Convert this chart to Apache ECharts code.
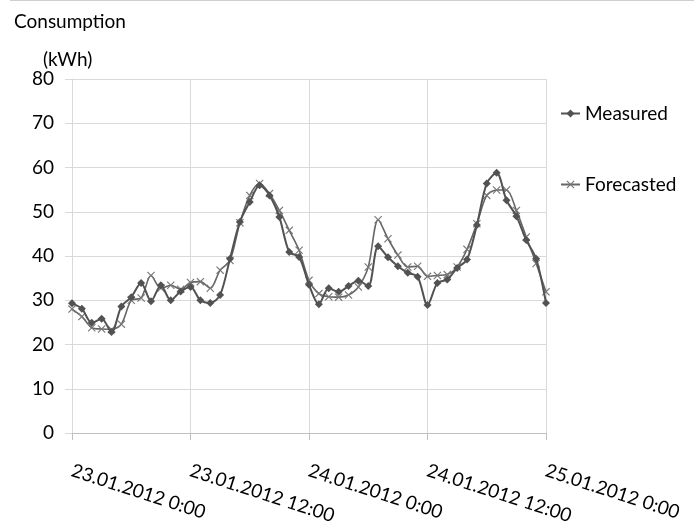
<!DOCTYPE html>
<html>
<head>
<meta charset="utf-8">
<script src="https://cdn.jsdelivr.net/npm/echarts@6/dist/echarts.min.js"></script>
<style>
html,body{margin:0;padding:0;background:#fff;}
#chart{width:694px;height:529px;}
</style>
</head>
<body>
<div id="chart"></div>
<script>
// Hourly points from 23.01.2012 0:00 to 25.01.2012 0:00
var tickLabels = ["23.01.2012 0:00", "23.01.2012 12:00", "24.01.2012 0:00", "24.01.2012 12:00", "25.01.2012 0:00"];
var hours = [];
for (var i = 0; i <= 48; i++) hours.push(i);

var measured = [29.3, 28.1, 24.9, 25.8, 22.8, 28.6, 30.7, 33.9, 29.8, 33.4, 30.0, 32.0, 33.0, 30.0, 29.4, 31.2,
  39.4, 47.7, 52.2, 56.0, 53.7, 48.8, 40.9, 39.8, 33.5, 29.1, 32.7, 31.9, 33.2, 34.4, 33.2, 42.2,
  39.7, 37.7, 36.2, 35.3, 28.9, 33.9, 34.7, 37.3, 39.2, 47.0, 56.4, 58.8, 52.6, 49.0, 43.6, 39.4, 29.4];
var forecasted = [28.0, 26.3, 23.8, 23.5, 23.4, 24.6, 30.0, 30.5, 35.6, 32.7, 33.4, 32.5, 34.0, 34.2, 32.7, 36.8,
  39.0, 47.5, 53.7, 56.4, 54.1, 50.3, 45.8, 41.3, 34.5, 31.5, 30.8, 30.7, 31.2, 33.0, 37.5, 48.2,
  43.9, 40.2, 37.5, 37.7, 35.4, 35.6, 35.8, 37.5, 41.5, 47.3, 53.7, 54.9, 54.9, 50.3, 44.3, 38.3, 31.9];

var FONT = 'Lato';
var crossPath = 'path://M0,1 L1,0 L5,4 L9,0 L10,1 L6,5 L10,9 L9,10 L5,6 L1,10 L0,9 L4,5 Z';

var chart = echarts.init(document.getElementById('chart'), null, {renderer: 'canvas'});
chart.setOption({
  backgroundColor: '#ffffff',
  animation: false,
  textStyle: {fontFamily: FONT},
  grid: {left: 72, right: 148, top: 79, bottom: 96, containLabel: false},
  graphic: [
    {type: 'line', shape: {x1: 10, y1: 0.5, x2: 694, y2: 0.5}, style: {stroke: '#cfcfcf', lineWidth: 1}},
    {type: 'text', left: 14, top: 12, style: {text: 'Consumption', font: '19px Lato', fill: '#000'}},
    {type: 'text', left: 43, top: 50, style: {text: '(kWh)', font: '19px Lato', fill: '#000'}}
  ],
  legend: {
    orient: 'vertical',
    left: 555,
    top: 99,
    itemGap: 52,
    itemWidth: 19,
    itemHeight: 10,
    textStyle: {fontSize: 19, color: '#000', fontFamily: FONT},
    data: ['Measured', 'Forecasted']
  },
  xAxis: {
    type: 'category',
    data: hours,
    boundaryGap: false,
    axisLine: {show: true, lineStyle: {color: '#bfbfbf', width: 1}},
    axisTick: {show: true, interval: 11, length: 7, lineStyle: {color: '#bfbfbf'}},
    splitLine: {show: true, interval: 11, lineStyle: {color: '#d9d9d9', width: 1}},
    axisLabel: {
      interval: 11,
      rotate: -18,
      margin: 37,
      fontSize: 19,
      color: '#000',
      fontFamily: FONT,
      formatter: function (v, idx) { return tickLabels[Math.round(idx / 12)]; }
    }
  },
  yAxis: {
    type: 'value',
    min: 0,
    max: 80,
    interval: 10,
    axisLine: {show: true, lineStyle: {color: '#d9d9d9'}},
    axisTick: {show: true, length: 7, lineStyle: {color: '#d9d9d9'}},
    splitLine: {show: true, lineStyle: {color: '#d9d9d9', width: 1}},
    axisLabel: {fontSize: 19, color: '#000', margin: 18, fontFamily: FONT}
  },
  series: [
    {
      name: 'Measured',
      type: 'line',
      data: measured,
      smooth: 0.3,
      symbol: 'diamond',
      symbolSize: 8,
      showAllSymbol: true,
      lineStyle: {color: '#525252', width: 2},
      itemStyle: {color: '#525252'},
      z: 3
    },
    {
      name: 'Forecasted',
      type: 'line',
      data: forecasted,
      smooth: 0.3,
      symbol: crossPath,
      symbolSize: 8,
      showAllSymbol: true,
      lineStyle: {color: '#666666', width: 1.6},
      itemStyle: {color: '#777777'},
      z: 2
    }
  ]
});
</script>
</body>
</html>
